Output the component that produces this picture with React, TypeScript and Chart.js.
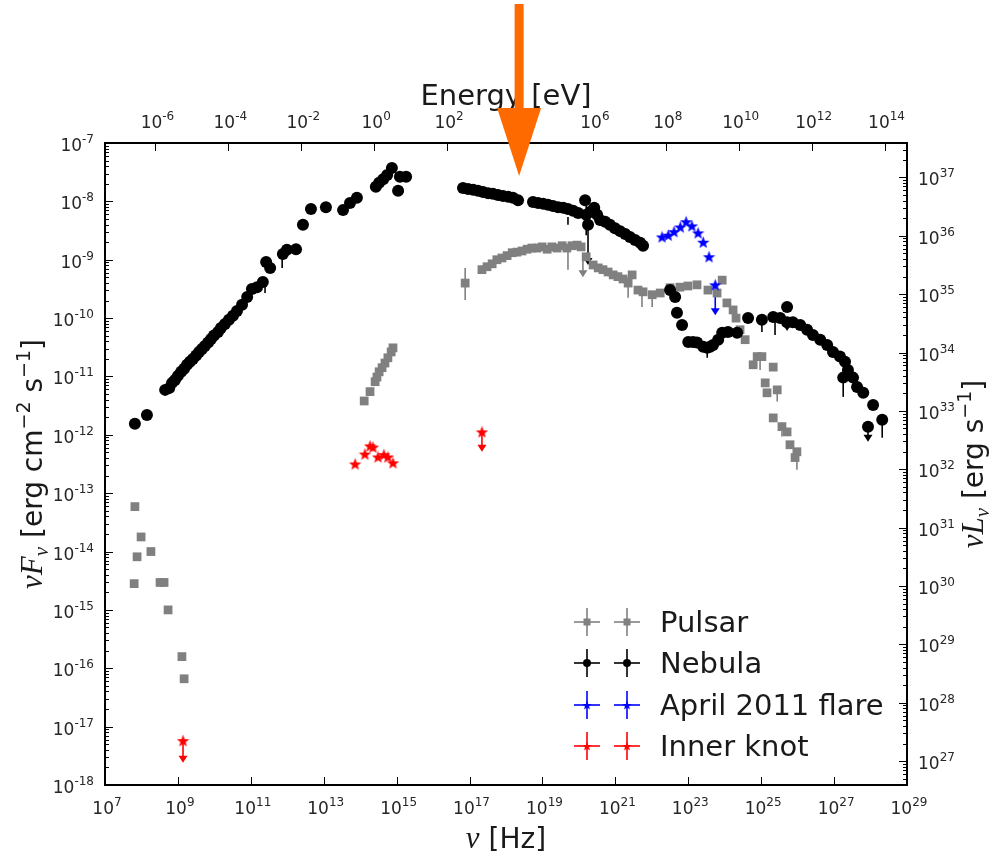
import React, { useEffect, useRef } from "react";
import { Chart, registerables } from "chart.js";
Chart.register(...registerables);

// ---- constants (unit conversions) ----
const LOG_H_EV = -14.3835; // log10 of Planck constant [eV s]
const LOG_LUM_OFFSET = 44.59; // log10(4 pi d^2) for the right axis

// ---- data (log10 nu [Hz], log10 nuF_nu [erg cm^-2 s^-1]) ----
const pulsarLogNu = [
  7.82, 7.99, 7.88, 8.26, 7.8, 8.51, 8.62, 8.73, 9.11, 9.17,
  14.11, 14.27, 14.41, 14.46, 14.52, 14.6, 14.68, 14.76, 14.85, 14.9,
  16.88, 17.34, 17.48, 17.62, 17.75, 17.89, 18.03, 18.17, 18.3, 18.44,
  18.58, 18.71, 18.85, 18.99, 19.13, 19.26, 19.4, 19.54, 19.67, 19.81,
  19.95, 20.06, 20.2, 20.39, 20.53, 20.66, 20.8, 20.94, 21.07, 21.21,
  21.35, 21.46, 21.62, 21.76, 22.01, 22.23, 22.5, 22.77, 22.99, 23.24,
  23.54, 23.79, 23.93, 24.06, 24.23, 24.31, 24.42, 24.56, 24.89, 25.02,
  24.78, 25.33, 25.11, 25.44, 25.16, 25.33, 25.57, 25.71, 25.79, 25.98, 25.93,
];
const pulsarLogFlux = [
  -13.23, -13.75, -14.09, -14.0, -14.55, -14.53, -14.53, -15.0, -15.8, -16.18,
  -11.42, -11.26, -11.09, -11.01, -10.92, -10.85, -10.77, -10.68, -10.58, -10.51,
  -9.4, -9.17, -9.12, -9.07, -9.0, -8.97, -8.93, -8.88, -8.87, -8.85,
  -8.82, -8.8, -8.8, -8.78, -8.82, -8.78, -8.8, -8.76, -8.8, -8.76,
  -8.75, -8.78, -8.95, -9.09, -9.14, -9.17, -9.21, -9.26, -9.29, -9.33,
  -9.4, -9.26, -9.52, -9.55, -9.6, -9.57, -9.48, -9.47, -9.45, -9.43,
  -9.52, -9.57, -9.35, -9.74, -9.86, -10.0, -10.2, -10.37, -10.66, -10.66,
  -10.8, -10.84, -11.11, -11.23, -11.28, -11.71, -11.86, -11.95, -12.17, -12.29, -12.39,
];
const pulsarErr = [
  [16.88, -9.69, -9.14], [19.7, -9.17, -8.83], [21.35, -9.65, -9.29],
  [21.73, -9.81, -9.48], [22.01, -9.81, -9.57], [24.97, -10.89, -10.66],
  [25.44, -11.43, -11.23], [25.57, -12.03, -11.79], [25.98, -12.6, -12.29],
];
const pulsarUL = [[20.11, -9.02, -9.3]];

const nebulaLogNu = [
  7.82, 8.15, 8.65, 8.76, 8.84, 8.92, 9.0, 9.09, 9.17, 9.25,
  9.33, 9.41, 9.5, 9.58, 9.66, 9.74, 9.83, 9.91, 9.99, 10.1,
  10.18, 10.29, 10.4, 10.51, 10.62, 10.76, 10.9, 11.03, 11.17, 11.33,
  11.42, 11.53, 11.88, 11.99, 12.24, 12.43, 12.65, 13.06, 13.53, 13.72,
  13.91, 14.43, 14.52, 14.63, 14.74, 14.87, 15.04, 15.09, 15.26,
  16.82, 16.96, 17.1, 17.23, 17.37, 17.51, 17.64, 17.78, 17.92, 18.06,
  18.19, 18.33, 18.74, 18.88, 19.02, 19.15, 19.29, 19.43, 19.57, 19.7,
  19.84, 19.98, 20.17, 20.2, 20.25, 20.31, 20.42, 20.5, 20.58, 20.72,
  20.85, 20.99, 21.13, 21.27, 21.4, 21.54, 21.68, 21.76,
  22.5, 22.64, 22.69, 22.83, 23.0, 23.13, 23.24, 23.41, 23.52, 23.6,
  23.68, 23.82, 23.93, 24.09, 24.34,
  24.64, 25.02, 25.33, 25.52, 25.71, 25.71, 25.87, 26.07, 26.26, 26.42,
  26.62, 26.81, 26.97, 27.16, 27.3, 27.38, 27.25, 27.52, 27.63, 27.8,
  28.07, 28.32, 27.93,
];
const nebulaLogFlux = [
  -11.81, -11.66, -11.23, -11.2, -11.11, -11.06, -10.99, -10.92, -10.87, -10.8,
  -10.75, -10.7, -10.64, -10.58, -10.53, -10.48, -10.42, -10.36, -10.3, -10.24,
  -10.17, -10.1, -10.03, -9.96, -9.88, -9.77, -9.64, -9.5, -9.47, -9.38,
  -9.04, -9.14, -8.9, -8.83, -8.82, -8.4, -8.13, -8.1, -8.15, -8.03,
  -7.94, -7.75, -7.68, -7.62, -7.55, -7.43, -7.82, -7.58, -7.58,
  -7.77, -7.79, -7.8, -7.82, -7.84, -7.86, -7.87, -7.89, -7.91, -7.92,
  -7.94, -7.98, -8.01, -8.03, -8.04, -8.06, -8.08, -8.1, -8.11, -8.13,
  -8.16, -8.2, -7.98, -8.23, -8.4, -8.18, -8.11, -8.23, -8.32, -8.35,
  -8.4, -8.46, -8.51, -8.56, -8.61, -8.66, -8.71, -8.76,
  -9.52, -9.64, -9.91, -10.12, -10.41, -10.41, -10.42, -10.49, -10.51, -10.49,
  -10.46, -10.37, -10.25, -10.24, -10.25,
  -10.0, -10.03, -9.98, -10.0, -9.81, -10.07, -10.07, -10.12, -10.2, -10.29,
  -10.37, -10.46, -10.58, -10.66, -10.75, -10.89, -11.02, -11.02, -11.18, -11.28,
  -11.49, -11.74, -11.86,
];
const nebulaErr = [
  [11.39, -9.57, -9.35], [11.86, -9.14, -8.95], [19.7, -8.4, -8.27],
  [20.2, -8.58, -7.98], [23.52, -10.68, -10.51], [25.02, -10.24, -10.03],
  [25.38, -10.29, -9.98], [27.25, -11.35, -11.01], [28.32, -12.05, -11.74],
];
const nebulaUL = [[20.25, -8.4, -9.09], [25.71, -10.07, -10.22], [27.93, -11.86, -12.12]];

const flareLogNu = [22.28, 22.45, 22.61, 22.78, 22.94, 23.1, 23.27, 23.41, 23.57, 23.74];
const flareLogFlux = [-8.61, -8.58, -8.52, -8.44, -8.35, -8.42, -8.54, -8.7, -8.95, -9.43];
const flareUL = [[23.74, -9.43, -9.95]];

const knotLogNu = [13.86, 14.13, 14.27, 14.35, 14.49, 14.65, 14.76, 14.9, 17.34, 9.14];
const knotLogFlux = [-12.5, -12.33, -12.19, -12.21, -12.38, -12.34, -12.38, -12.48, -11.95, -17.24];
const knotUL = [[17.34, -11.95, -12.29], [9.14, -17.24, -17.62]];

// tick exponents
const nuTickExp = [7, 9, 11, 13, 15, 17, 19, 21, 23, 25, 27, 29];
const fluxTickExp = [-7, -8, -9, -10, -11, -12, -13, -14, -15, -16, -17, -18];
const energyTickExp = [-6, -4, -2, 0, 2, 4, 6, 8, 10, 12, 14];
const lumTickExp = [27, 28, 29, 30, 31, 32, 33, 34, 35, 36, 37];

const legendLabels = ["Pulsar", "Nebula", "April 2011 flare", "Inner knot"];
const arrowLogNu = 18.36; // annotation arrow position

const GRAY = "#808080";
const BLACK = "#000000";
const BLUE = "#0000ff";
const RED = "#ff0000";
const SANS = '"DejaVu Sans", sans-serif';
const SERIF_I = '"Liberation Serif", serif';

const p10 = (v: number) => Math.pow(10, v);
function toPoints(lx: number[], ly: number[]) {
  return lx.map((v, i) => ({ x: p10(v), y: p10(ly[i]) }));
}

function makeStar(color: string, size: number) {
  const c = document.createElement("canvas");
  c.width = size;
  c.height = size;
  const g = c.getContext("2d")!;
  const cx = size / 2, cy = size / 2 + 0.6, R = size / 2, r = R * 0.42;
  g.beginPath();
  for (let i = 0; i < 10; i++) {
    const a = -Math.PI / 2 + (i * Math.PI) / 5;
    const rad = i % 2 === 0 ? R : r;
    g.lineTo(cx + rad * Math.cos(a), cy + rad * Math.sin(a));
  }
  g.closePath();
  g.fillStyle = color;
  g.fill();
  return c;
}

type Seg = { t: string; f: string; dy?: number };
function drawSegs(ctx: CanvasRenderingContext2D, segs: Seg[], x: number, y: number, align: "left" | "center" | "right") {
  let w = 0;
  const ws: number[] = [];
  for (const s of segs) {
    ctx.font = s.f;
    const m = ctx.measureText(s.t).width;
    ws.push(m);
    w += m;
  }
  let cx = align === "left" ? x : align === "center" ? x - w / 2 : x - w;
  ctx.textAlign = "left";
  ctx.textBaseline = "alphabetic";
  segs.forEach((s, i) => {
    ctx.font = s.f;
    ctx.fillText(s.t, cx, y + (s.dy || 0));
    cx += ws[i];
  });
}
function powSegs(e: number): Seg[] {
  return [
    { t: "10", f: `17px ${SANS}` },
    { t: e < 0 ? "-" + Math.abs(e) : String(e), f: `12px ${SANS}`, dy: -8 },
  ];
}

const decorPlugin = {
  id: "sedDecor",
  beforeDatasetsDraw(chart: any) {
    const ctx: CanvasRenderingContext2D = chart.ctx;
    const xs = chart.scales.x, ys = chart.scales.y;
    ctx.save();
    const errs: [number[][], string][] = [[pulsarErr, GRAY], [nebulaErr, BLACK]];
    for (const [list, col] of errs) {
      ctx.strokeStyle = col;
      ctx.lineWidth = 1.6;
      for (const [lx, lo, hi] of list) {
        const px = xs.getPixelForValue(p10(lx));
        ctx.beginPath();
        ctx.moveTo(px, ys.getPixelForValue(p10(lo)));
        ctx.lineTo(px, ys.getPixelForValue(p10(hi)));
        ctx.stroke();
      }
    }
    const uls: [number[][], string][] = [[pulsarUL, GRAY], [nebulaUL, BLACK], [flareUL, BLUE], [knotUL, RED]];
    for (const [list, col] of uls) {
      ctx.strokeStyle = col;
      ctx.fillStyle = col;
      ctx.lineWidth = 1.6;
      for (const [lx, from, tip] of list) {
        const px = xs.getPixelForValue(p10(lx));
        const y1 = ys.getPixelForValue(p10(from));
        const y2 = ys.getPixelForValue(p10(tip));
        ctx.beginPath();
        ctx.moveTo(px, y1);
        ctx.lineTo(px, y2 - 4);
        ctx.stroke();
        ctx.beginPath();
        ctx.moveTo(px - 4.5, y2 - 7);
        ctx.lineTo(px + 4.5, y2 - 7);
        ctx.lineTo(px, y2);
        ctx.closePath();
        ctx.fill();
      }
    }
    ctx.restore();
  },
  afterDraw(chart: any) {
    const ctx: CanvasRenderingContext2D = chart.ctx;
    const { left, right, top, bottom } = chart.chartArea;
    const xs = chart.scales.x, ys = chart.scales.y, xe = chart.scales.xE, yr = chart.scales.yR;
    ctx.save();
    // ticks
    ctx.strokeStyle = "#000";
    ctx.lineWidth = 1;
    const line = (a: number, b: number, c: number, d: number) => {
      ctx.beginPath();
      ctx.moveTo(a, b);
      ctx.lineTo(c, d);
      ctx.stroke();
    };
    for (let e = -18; e <= -7; e++) {
      const py = Math.round(ys.getPixelForValue(p10(e))) + 0.5;
      line(left, py, left + 8, py);
      if (e < -7) {
        for (let m = 2; m <= 9; m++) {
          const q = Math.round(ys.getPixelForValue(m * p10(e))) + 0.5;
          line(left, q, left + 4, q);
        }
      }
    }
    for (let e = 26; e <= 37; e++) {
      if (e >= 27) {
        const py = Math.round(yr.getPixelForValue(p10(e))) + 0.5;
        line(right, py, right - 8, py);
      }
      for (let m = 2; m <= 9; m++) {
        const v = m * p10(e);
        if (v < yr.min || v > yr.max) continue;
        const q = Math.round(yr.getPixelForValue(v)) + 0.5;
        line(right, q, right - 4, q);
      }
    }
    for (const e of nuTickExp) {
      const px = Math.round(xs.getPixelForValue(p10(e))) + 0.5;
      line(px, bottom, px, bottom - 8);
    }
    for (const e of energyTickExp) {
      const px = Math.round(xe.getPixelForValue(p10(e))) + 0.5;
      line(px, top, px, top + 8);
    }
    // frame
    ctx.lineWidth = 2;
    ctx.strokeRect(left, top, right - left, bottom - top);

    // tick labels
    ctx.fillStyle = "#262626";
    for (const e of nuTickExp) drawSegs(ctx, powSegs(e), xs.getPixelForValue(p10(e)) + 2, bottom + 29, "center");
    for (const e of energyTickExp) drawSegs(ctx, powSegs(e), xe.getPixelForValue(p10(e)) + 2, top - 15, "center");
    for (const e of fluxTickExp) drawSegs(ctx, powSegs(e), left - 11, ys.getPixelForValue(p10(e)) + 8, "right");
    for (const e of lumTickExp) drawSegs(ctx, powSegs(e), right + 11, yr.getPixelForValue(p10(e)) + 8, "left");

    // axis titles
    const cxm = (left + right) / 2, cym = (top + bottom) / 2;
    ctx.fillStyle = "#1a1a1a";
    drawSegs(ctx, [{ t: "ν", f: `italic 31px ${SERIF_I}` }, { t: " [Hz]", f: `28px ${SANS}` }], cxm, bottom + 63, "center");
    drawSegs(ctx, [{ t: "Energy [eV]", f: `29px ${SANS}` }], cxm, top - 38, "center");
    ctx.save();
    ctx.translate(42, cym);
    ctx.rotate(-Math.PI / 2);
    drawSegs(ctx, [
      { t: "ν", f: `italic 31px ${SERIF_I}` },
      { t: "F", f: `italic 31px ${SERIF_I}` },
      { t: "ν", f: `italic 21px ${SERIF_I}`, dy: 6 },
      { t: " [erg cm", f: `28px ${SANS}` },
      { t: "−2", f: `19px ${SANS}`, dy: -12 },
      { t: " s", f: `28px ${SANS}` },
      { t: "−1", f: `19px ${SANS}`, dy: -12 },
      { t: "]", f: `28px ${SANS}` },
    ], 0, 0, "center");
    ctx.restore();
    ctx.save();
    ctx.translate(983, cym);
    ctx.rotate(-Math.PI / 2);
    drawSegs(ctx, [
      { t: "ν", f: `italic 31px ${SERIF_I}` },
      { t: "L", f: `italic 31px ${SERIF_I}` },
      { t: "ν", f: `italic 21px ${SERIF_I}`, dy: 6 },
      { t: " [erg s", f: `28px ${SANS}` },
      { t: "−1", f: `19px ${SANS}`, dy: -12 },
      { t: "]", f: `28px ${SANS}` },
    ], 0, 0, "center");
    ctx.restore();

    // legend
    const cols = [GRAY, BLACK, BLUE, RED];
    const rowY = [622, 663, 705, 746];
    const mx = [587, 627];
    cols.forEach((col, i) => {
      const y = rowY[i];
      ctx.strokeStyle = col;
      ctx.fillStyle = col;
      ctx.lineWidth = 1.6;
      for (const x of mx) {
        line(x - 13, y, x + 13, y);
        line(x, y - 14, x, y + 14);
        if (i === 0) ctx.fillRect(x - 3.5, y - 3.5, 7, 7);
        else if (i === 1) {
          ctx.beginPath();
          ctx.arc(x, y, 4, 0, Math.PI * 2);
          ctx.fill();
        } else {
          const st = i === 2 ? chart.$blueStar : chart.$redStar;
          if (st) ctx.drawImage(st, x - 5, y - 5, 10, 10);
        }
      }
      ctx.fillStyle = "#1a1a1a";
      drawSegs(ctx, [{ t: legendLabels[i], f: `29px ${SANS}` }], 660, y + 10, "left");
    });

    // orange annotation arrow
    const ax = xs.getPixelForValue(p10(arrowLogNu));
    ctx.fillStyle = "#ff6a00";
    ctx.fillRect(ax - 4.5, 4, 9, 106);
    ctx.beginPath();
    ctx.moveTo(ax - 22, 108);
    ctx.lineTo(ax + 22, 108);
    ctx.lineTo(ax, 176);
    ctx.closePath();
    ctx.fill();
    ctx.restore();
  },
};

export default function App() {
  const ref = useRef<HTMLCanvasElement>(null);
  useEffect(() => {
    const blueStar = makeStar(BLUE, 13);
    const redStar = makeStar(RED, 13);
    const chart: any = new Chart(ref.current!, {
      type: "scatter",
      data: {
        datasets: [
          { label: "Inner knot", data: toPoints(knotLogNu, knotLogFlux), pointStyle: redStar as any, order: 1 },
          { label: "April 2011 flare", data: toPoints(flareLogNu, flareLogFlux), pointStyle: blueStar as any, order: 2 },
          {
            label: "Nebula", data: toPoints(nebulaLogNu, nebulaLogFlux), pointStyle: "circle",
            pointRadius: 6, backgroundColor: BLACK, borderColor: BLACK, borderWidth: 0, order: 3,
          },
          {
            label: "Pulsar", data: toPoints(pulsarLogNu, pulsarLogFlux), pointStyle: "rect",
            pointRadius: 6.2, backgroundColor: GRAY, borderColor: GRAY, borderWidth: 0, order: 4,
          },
        ],
      },
      options: {
        animation: false,
        responsive: false,
        devicePixelRatio: 1,
        events: [],
        layout: { padding: { left: 105, right: 88, top: 143, bottom: 73 } },
        plugins: { legend: { display: false }, tooltip: { enabled: false } },
        scales: {
          x: { type: "logarithmic", min: 1e7, max: 1e29, display: false, bounds: "data" },
          y: { type: "logarithmic", min: 1e-18, max: 1e-7, display: false, bounds: "data" },
          xE: {
            type: "logarithmic", axis: "x", position: "top", display: false, bounds: "data",
            min: p10(7 + LOG_H_EV), max: p10(29 + LOG_H_EV),
          },
          yR: {
            type: "logarithmic", axis: "y", position: "right", display: false, bounds: "data",
            min: p10(-18 + LOG_LUM_OFFSET), max: p10(-7 + LOG_LUM_OFFSET),
          },
        } as any,
      },
      plugins: [
        {
          id: "stars",
          beforeInit(c: any) {
            c.$blueStar = blueStar;
            c.$redStar = redStar;
          },
        },
        decorPlugin as any,
      ],
    } as any);
    return () => chart.destroy();
  }, []);
  return (
    <div style={{ position: "fixed", left: 0, top: 0, width: 995, height: 858, background: "#fff" }}>
      <canvas ref={ref} width={995} height={858} style={{ width: 995, height: 858, display: "block" }} />
    </div>
  );
}
